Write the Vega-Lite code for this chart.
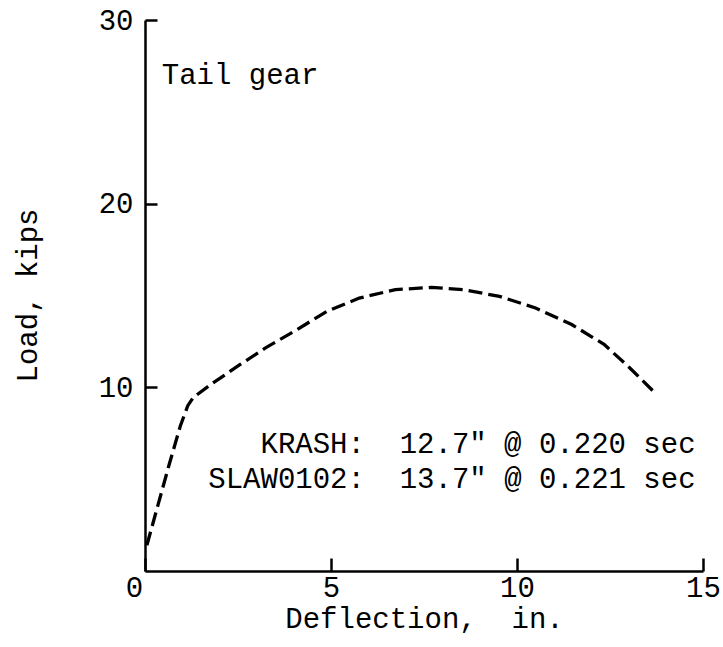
{
  "$schema": "https://vega.github.io/schema/vega-lite/v6.json",
  "width": 558,
  "height": 551,
  "autosize": "none",
  "padding": {"left": 145, "top": 20, "right": 20, "bottom": 76},
  "background": "white",
  "config": {
    "view": {"stroke": null},
    "font": "Liberation Mono",
    "axis": {
      "grid": false,
      "domainColor": "black",
      "domainWidth": 2.5,
      "tickColor": "black",
      "tickWidth": 2.5,
      "labelFont": "Liberation Mono",
      "labelFontSize": 29,
      "labelColor": "black",
      "titleFont": "Liberation Mono",
      "titleFontSize": 29,
      "titleFontWeight": "normal",
      "titleColor": "black"
    }
  },
  "datasets": {
    "curve": [
      {"deflection": 0.05, "load": 1.4},
      {"deflection": 0.35, "load": 3.6},
      {"deflection": 0.65, "load": 5.8},
      {"deflection": 0.95, "load": 7.9},
      {"deflection": 1.15, "load": 9.0},
      {"deflection": 1.3, "load": 9.45},
      {"deflection": 1.8, "load": 10.2},
      {"deflection": 2.57, "load": 11.26},
      {"deflection": 3.25, "load": 12.16},
      {"deflection": 4.02, "load": 13.06},
      {"deflection": 4.89, "load": 14.14},
      {"deflection": 5.76, "load": 14.86},
      {"deflection": 6.73, "load": 15.32},
      {"deflection": 7.7, "load": 15.44},
      {"deflection": 8.57, "load": 15.32},
      {"deflection": 9.53, "load": 14.95},
      {"deflection": 10.5, "load": 14.32},
      {"deflection": 11.47, "load": 13.42},
      {"deflection": 12.34, "load": 12.34},
      {"deflection": 13.02, "load": 11.08},
      {"deflection": 13.67, "load": 9.78}
    ],
    "notes": [
      {"x": 14.8, "y": 6.4, "label": "KRASH: \u00a012.7\" @ 0.220 sec"},
      {"x": 14.8, "y": 4.5, "label": "SLAW0102: \u00a013.7\" @ 0.221 sec"}
    ],
    "tag": [
      {"x": 0.45, "y": 26.5, "label": "Tail gear"}
    ]
  },
  "layer": [
    {
      "data": {"name": "curve"},
      "mark": {"type": "line", "color": "black", "strokeWidth": 3.3, "strokeDash": [14, 6]},
      "encoding": {
        "x": {
          "field": "deflection",
          "type": "quantitative",
          "scale": {"domain": [0, 15], "nice": false, "zero": false},
          "axis": {
            "orient": "top",
            "offset": -551,
            "title": "Deflection, \u00a0in.",
            "values": [0, 5, 10, 15],
            "tickSize": 13,
            "labelFlush": false,
            "labelBaseline": "top",
            "labelPadding": -15,
            "labelOffset": {"condition": {"test": "datum.value == 0", "value": -11}, "value": 0},
            "titleX": 279,
            "titleY": 56,
            "titleAlign": "center",
            "titleBaseline": "alphabetic"
          }
        },
        "y": {
          "field": "load",
          "type": "quantitative",
          "scale": {"domain": [0, 30], "nice": false, "zero": false},
          "axis": {
            "orient": "right",
            "offset": -558,
            "title": "Load, kips",
            "values": [10, 20, 30],
            "tickSize": 12,
            "labelAlign": "right",
            "labelPadding": -24,
            "titleX": -118,
            "titleY": 275,
            "titleAngle": -90,
            "titleAlign": "center",
            "titleBaseline": "middle"
          }
        }
      }
    },
    {
      "data": {"name": "notes"},
      "mark": {"type": "text", "align": "right", "baseline": "alphabetic", "fontSize": 29, "font": "Liberation Mono", "color": "black"},
      "encoding": {
        "x": {"field": "x", "type": "quantitative"},
        "y": {"field": "y", "type": "quantitative"},
        "text": {"field": "label"}
      }
    },
    {
      "data": {"name": "tag"},
      "mark": {"type": "text", "align": "left", "baseline": "alphabetic", "fontSize": 29, "font": "Liberation Mono", "color": "black"},
      "encoding": {
        "x": {"field": "x", "type": "quantitative"},
        "y": {"field": "y", "type": "quantitative"},
        "text": {"field": "label"}
      }
    }
  ]
}
